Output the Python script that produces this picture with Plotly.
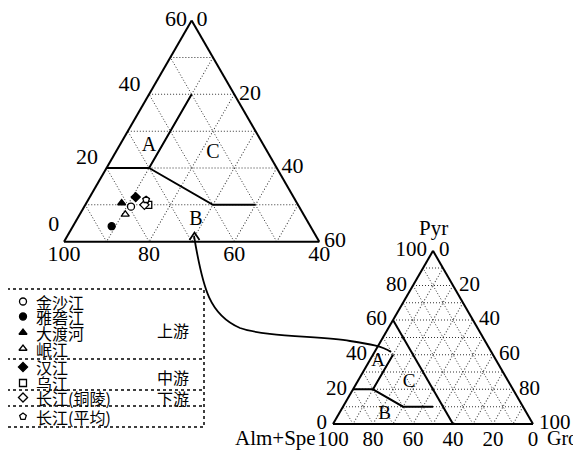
import plotly.graph_objects as go

# page is 581x450 but the body has an 8px margin, so the figure starts at (8, 8)
PAGE_W, PAGE_H, OFF = 581, 450, 8
W, H = PAGE_W - OFF, PAGE_H - OFF

# river samples, garnet end members (%)
rivers = ["金沙江", "雅砻江", "大渡河", "岷江", "汉江", "乌江", "长江(铜陵)", "长江(平均)"]
pyr = [9.5, 4.2, 10.5, 7.4, 12.1, 10.0, 10.0, 11.4]
gro = [11.0, 9.1, 8.3, 10.7, 10.8, 14.8, 13.9, 13.6]
alm_spe = [79.5, 86.7, 81.2, 81.9, 77.1, 75.2, 76.1, 75.0]
symbols = ["circle", "circle", "triangle-up", "triangle-up", "diamond", "square", "diamond", "pentagon"]
filled = [False, True, True, False, True, False, False, False]
reaches = ["上游", "中游", "下游"]

# field boundaries (Pyr, Gro, Alm+Spe)
bound1_pyr = [20, 20, 40]
bound1_gro = [0, 10, 10]
bound1_alm = [80, 70, 50]
bound2_pyr_big = [20, 10, 10]
bound2_gro_big = [10, 30, 40]
bound2_alm_big = [70, 60, 50]
bound2_pyr_small = [20, 10, 10]
bound2_gro_small = [10, 30, 45]
bound2_alm_small = [70, 60, 45]
zoom_pyr = [60, 0]
zoom_gro = [0, 60]
zoom_alm = [40, 40]

fields = ["A", "C", "B"]
field_pyr_big = [26, 24, 6]
field_gro_big = [7, 23, 28]
field_alm_big = [67, 53, 66]
field_pyr_small = [36, 24, 5.6]
field_gro_small = [4.5, 26, 23]
field_alm_small = [59.5, 50, 71.4]

# tick labels
big_pyr_ticks = [0, 20, 40, 60]
big_gro_ticks = [0, 20, 40, 60]
big_alm_ticks = [100, 80, 60, 40]
small_ticks = [0, 20, 40, 60, 80, 100]

SERIF = "Liberation Serif"
CJK = "Noto Sans CJK SC"
LEFT_LABEL_DROP = [0, 1.8, 1.8, 0]   # nudge the big triangle's left labels down the edge


def ternary_axis(lo, hi):
    return dict(
        min=lo, tickmode="array", tickvals=list(range(lo, hi + 1, 10)),
        showticklabels=False, ticks="", title=dict(text=""),
        showline=True, linecolor="black", linewidth=2,
        showgrid=True, gridcolor="#333", gridwidth=1, griddash="1px,2px",
        layer="below traces",
    )


def dom_x(x0, x1):
    return [(x0 - OFF) / W, (x1 - OFF) / W]


def dom_y(y_bottom, y_top):
    return [1 - (y_bottom - OFF) / H, 1 - (y_top - OFF) / H]


def tick_trace(a, b, c, text, pos, size, pad, sub):
    # invisible markers push the labels away from the triangle edge
    return go.Scatterternary(a=a, b=b, c=c, mode="markers+text", text=text,
                             textposition=pos, cliponaxis=False,
                             marker=dict(size=pad, opacity=0),
                             textfont=dict(family=SERIF, size=size, color="black"),
                             subplot=sub, showlegend=False, hoverinfo="skip")


fig = go.Figure()

line_style = dict(color="black", width=2)
for sub, b2p, b2g, b2a in [("ternary", bound2_pyr_big, bound2_gro_big, bound2_alm_big),
                           ("ternary2", bound2_pyr_small, bound2_gro_small, bound2_alm_small)]:
    fig.add_trace(go.Scatterternary(a=bound1_pyr, b=bound1_alm, c=bound1_gro, mode="lines",
                                    line=line_style, subplot=sub, showlegend=False, hoverinfo="skip"))
    fig.add_trace(go.Scatterternary(a=b2p, b=b2a, c=b2g, mode="lines",
                                    line=line_style, subplot=sub, showlegend=False, hoverinfo="skip"))

fig.add_trace(go.Scatterternary(a=zoom_pyr, b=zoom_alm, c=zoom_gro, mode="lines",
                                line=line_style, subplot="ternary2", showlegend=False, hoverinfo="skip"))

fig.add_trace(go.Scatterternary(a=field_pyr_big, b=field_alm_big, c=field_gro_big, mode="text",
                                text=fields, textfont=dict(family=SERIF, size=20, color="black"),
                                subplot="ternary", showlegend=False, hoverinfo="skip"))
fig.add_trace(go.Scatterternary(a=field_pyr_small, b=field_alm_small, c=field_gro_small, mode="text",
                                text=fields, textfont=dict(family=SERIF, size=19, color="black"),
                                subplot="ternary2", showlegend=False, hoverinfo="skip"))

# tick labels, big (zoomed) triangle
left_a = [v - d for v, d in zip(big_pyr_ticks, LEFT_LABEL_DROP)]
fig.add_trace(tick_trace(left_a, [100 - v for v in left_a], [0] * 4,
                         [str(v) for v in big_pyr_ticks],
                         ["top left", "top left", "top left", "middle left"], 22, 0, "ternary"))
fig.add_trace(tick_trace([60 - v for v in big_gro_ticks], [40] * 4, big_gro_ticks,
                         [str(v) for v in big_gro_ticks], "middle right", 22, 6, "ternary"))
fig.add_trace(tick_trace([0] * 4, big_alm_ticks, [100 - v for v in big_alm_ticks],
                         [str(v) for v in big_alm_ticks], "bottom center", 22, 3, "ternary"))

# tick labels, small full triangle
fig.add_trace(tick_trace(small_ticks, [100 - v for v in small_ticks], [0] * 6,
                         [str(v) for v in small_ticks], "middle left", 21, 8, "ternary2"))
fig.add_trace(tick_trace([100 - v for v in small_ticks], [0] * 6, small_ticks,
                         [str(v) for v in small_ticks], "middle right", 21, 8, "ternary2"))
fig.add_trace(tick_trace([0] * 6, [100 - v for v in small_ticks], small_ticks,
                         [str(100 - v) for v in small_ticks], "bottom center", 21, 8, "ternary2"))

for i, name in enumerate(rivers):
    fig.add_trace(go.Scatterternary(
        a=[pyr[i]], b=[alm_spe[i]], c=[gro[i]], mode="markers", name=name,
        marker=dict(symbol=symbols[i], size=7, color="black" if filled[i] else "white",
                    line=dict(color="black", width=1.3)),
        subplot="ternary", showlegend=False,
    ))

# legend key markers (page-pixel frame overlay)
key_y = [301.5, 316.5, 332.5, 348.5, 367, 383, 397.5, 416.5]
for i, name in enumerate(rivers):
    fig.add_trace(go.Scatter(
        x=[23], y=[key_y[i]], mode="markers", hoverinfo="skip", showlegend=False,
        marker=dict(symbol=symbols[i], size=7, color="black" if filled[i] else "white",
                    line=dict(color="black", width=1.3)),
    ))

annotations = []
for i, name in enumerate(rivers):
    annotations.append(dict(x=34, y=key_y[i], xref="x", yref="y", text=name, showarrow=False,
                            xanchor="left", yanchor="middle",
                            font=dict(family=CJK, size=16, color="black")))
for txt, y in zip(reaches, [329.5, 376.5, 397.5]):
    annotations.append(dict(x=173, y=y, xref="x", yref="y", text=txt, showarrow=False,
                            font=dict(family=CJK, size=16, color="black")))
annotations += [
    dict(x=433, y=228, xref="x", yref="y", text="Pyr", showarrow=False,
         font=dict(family=SERIF, size=21, color="black")),
    dict(x=318, y=438, xref="x", yref="y", text="Alm+Spe", showarrow=False, xanchor="right",
         font=dict(family=SERIF, size=21, color="black")),
    dict(x=545, y=438, xref="x", yref="y", text="Gro", showarrow=False, xanchor="left",
         font=dict(family=SERIF, size=20, color="black")),
]

legend_line = dict(color="black", width=1.5, dash="dot")
shapes = [dict(type="rect", xref="x", yref="y", x0=7, y0=289, x1=204, y1=427, line=legend_line)]
for y in [359, 390, 406]:
    shapes.append(dict(type="line", xref="x", yref="y", x0=7, x1=204, y0=y, y1=y, line=legend_line))
shapes.append(dict(type="path", xref="x", yref="y",
                   path="M 194,236 C 203,290 210,315 240,328 C 265,337 320,336 350,341 "
                        "C 370,344 382,346 391,352",
                   line=dict(color="black", width=1.8)))
shapes.append(dict(type="path", xref="x", yref="y", path="M 189.5,240 L 194.5,232.5 L 199.5,240",
                   line=dict(color="black", width=1.8)))

fig.update_layout(
    width=W, height=H,
    margin=dict(l=0, r=0, t=0, b=0),
    paper_bgcolor="white",
    plot_bgcolor="rgba(0,0,0,0)",
    showlegend=False,
    xaxis=dict(range=[OFF, PAGE_W], domain=[0, 1], visible=False, fixedrange=True),
    yaxis=dict(range=[PAGE_H, OFF], domain=[0, 1], visible=False, fixedrange=True),
    ternary=dict(
        sum=100, bgcolor="rgba(0,0,0,0)",
        domain=dict(x=dom_x(64, 319.3), y=dom_y(241.7, 241.7 - 255.3 * 0.866)),
        aaxis=ternary_axis(0, 60),
        baxis=ternary_axis(40, 100),
        caxis=ternary_axis(0, 60),
    ),
    ternary2=dict(
        sum=100, bgcolor="rgba(0,0,0,0)",
        domain=dict(x=dom_x(333, 533), y=dom_y(424, 424 - 200 * 0.866)),
        aaxis=ternary_axis(0, 100),
        baxis=ternary_axis(0, 100),
        caxis=ternary_axis(0, 100),
    ),
    annotations=annotations,
    shapes=shapes,
)

fig.write_html("out.html")
